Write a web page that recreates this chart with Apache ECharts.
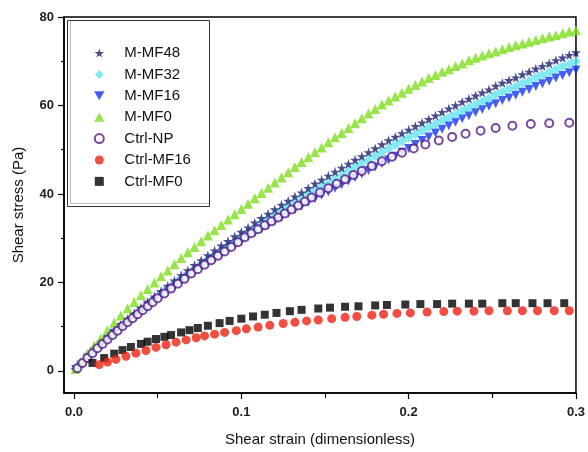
<!DOCTYPE html>
<html>
<head>
<meta charset="utf-8">
<script src="https://cdn.jsdelivr.net/npm/echarts@6/dist/echarts.min.js"></script>
<style>html,body{margin:0;padding:0;background:#fff;}#c{width:588px;height:452px;}</style>
</head>
<body>
<div id="c"></div>
<script>
const seriesNames = ['M-MF48', 'M-MF32', 'M-MF16', 'M-MF0', 'Ctrl-NP', 'Ctrl-MF16', 'Ctrl-MF0'];
const xTickLabels = [0, 0.1, 0.2, 0.3];
const xMinorTicks = [0.05, 0.15, 0.25];
const yTickLabels = [0, 20, 40, 60, 80];
const yMinorTicks = [10, 30, 50, 70];

const strainM = [0.001, 0.004, 0.008, 0.012, 0.016, 0.02, 0.024, 0.028, 0.032, 0.036, 0.04, 0.044, 0.048, 0.052, 0.056, 0.06, 0.064, 0.068, 0.072, 0.076, 0.08, 0.084, 0.088, 0.092, 0.096, 0.1, 0.104, 0.108, 0.112, 0.116, 0.12, 0.124, 0.128, 0.132, 0.136, 0.14, 0.144, 0.148, 0.152, 0.156, 0.16, 0.164, 0.168, 0.172, 0.176, 0.18, 0.184, 0.188, 0.192, 0.196, 0.2, 0.204, 0.208, 0.212, 0.216, 0.22, 0.224, 0.228, 0.232, 0.236, 0.24, 0.244, 0.248, 0.252, 0.256, 0.26, 0.264, 0.268, 0.272, 0.276, 0.28, 0.284, 0.288, 0.292, 0.296, 0.3];
const mmf48 = [0.4, 1.6, 3.2, 4.8, 6.3, 7.7, 9.1, 10.4, 11.7, 13.0, 14.3, 15.6, 16.8, 18.0, 19.2, 20.4, 21.6, 22.7, 23.9, 25.0, 26.1, 27.2, 28.3, 29.3, 30.4, 31.4, 32.4, 33.5, 34.5, 35.5, 36.5, 37.5, 38.4, 39.4, 40.3, 41.3, 42.3, 43.2, 44.1, 45.0, 45.9, 46.8, 47.7, 48.5, 49.4, 50.3, 51.2, 52.1, 52.9, 53.7, 54.5, 55.3, 56.1, 56.9, 57.7, 58.5, 59.3, 60.0, 60.8, 61.5, 62.2, 62.9, 63.6, 64.4, 65.1, 65.7, 66.3, 67.0, 67.6, 68.3, 68.9, 69.5, 70.2, 70.8, 71.4, 72.0];
const mmf32 = [0.4, 1.5, 3.1, 4.6, 6.1, 7.4, 8.8, 10.1, 11.3, 12.6, 13.8, 15.1, 16.2, 17.4, 18.5, 19.7, 20.8, 21.9, 23.0, 24.1, 25.2, 26.2, 27.3, 28.3, 29.3, 30.3, 31.3, 32.3, 33.3, 34.3, 35.2, 36.2, 37.1, 38.0, 38.9, 39.9, 40.8, 41.7, 42.5, 43.4, 44.3, 45.2, 46.1, 46.9, 47.7, 48.6, 49.4, 50.3, 51.1, 51.9, 52.7, 53.5, 54.3, 55.1, 55.8, 56.6, 57.3, 58.1, 58.8, 59.5, 60.2, 60.9, 61.6, 62.4, 63.1, 63.7, 64.3, 65.0, 65.6, 66.3, 66.9, 67.5, 68.2, 68.8, 69.4, 70.0];
const mmf16 = [0.3, 1.3, 2.9, 4.3, 5.7, 7.1, 8.5, 9.8, 11.0, 12.2, 13.4, 14.6, 15.7, 16.9, 18.0, 19.1, 20.2, 21.3, 22.3, 23.4, 24.4, 25.4, 26.4, 27.4, 28.3, 29.3, 30.3, 31.2, 32.1, 32.9, 33.8, 34.7, 35.6, 36.4, 37.2, 38.1, 38.9, 39.7, 40.5, 41.3, 42.1, 42.9, 43.7, 44.5, 45.3, 46.1, 46.9, 47.7, 48.5, 49.4, 50.3, 51.2, 52.1, 52.9, 53.8, 54.6, 55.4, 56.2, 57.0, 57.7, 58.4, 59.1, 59.8, 60.4, 61.1, 61.7, 62.3, 63.0, 63.6, 64.3, 64.9, 65.5, 66.2, 66.8, 67.4, 68.0];
const mmf0 = [0.5, 2.0, 3.9, 5.7, 7.4, 9.2, 10.9, 12.5, 14.1, 15.6, 17.1, 18.5, 20.0, 21.4, 22.7, 24.1, 25.5, 26.8, 28.0, 29.3, 30.6, 31.8, 33.0, 34.2, 35.4, 36.6, 37.8, 39.0, 40.2, 41.4, 42.6, 43.7, 44.9, 46.1, 47.2, 48.3, 49.4, 50.5, 51.7, 52.8, 53.8, 54.9, 56.0, 57.1, 58.2, 59.2, 60.2, 61.1, 62.0, 62.9, 63.8, 64.6, 65.4, 66.2, 66.9, 67.6, 68.2, 68.9, 69.5, 70.2, 70.8, 71.3, 71.8, 72.2, 72.7, 73.2, 73.6, 74.0, 74.4, 74.8, 75.2, 75.6, 75.9, 76.3, 76.7, 77.0];

const strainNP = [0.002, 0.005, 0.008, 0.011, 0.014, 0.017, 0.02, 0.023, 0.026, 0.029, 0.032, 0.035, 0.038, 0.041, 0.044, 0.047, 0.05, 0.054, 0.058, 0.062, 0.066, 0.07, 0.074, 0.078, 0.082, 0.086, 0.09, 0.094, 0.098, 0.102, 0.106, 0.11, 0.114, 0.118, 0.122, 0.126, 0.13, 0.134, 0.138, 0.142, 0.147, 0.152, 0.157, 0.162, 0.167, 0.172, 0.178, 0.184, 0.19, 0.196, 0.203, 0.21, 0.218, 0.226, 0.234, 0.243, 0.252, 0.262, 0.273, 0.284, 0.296];
const ctrlNP = [0.6, 1.8, 2.9, 4.0, 5.1, 6.1, 7.1, 8.1, 9.1, 10.1, 11.0, 11.9, 12.8, 13.7, 14.6, 15.5, 16.4, 17.5, 18.6, 19.7, 20.8, 22.0, 23.0, 24.0, 25.0, 26.0, 27.0, 28.0, 29.1, 30.2, 31.1, 32.0, 32.9, 33.8, 34.7, 35.6, 36.5, 37.4, 38.3, 39.2, 40.3, 41.3, 42.3, 43.3, 44.3, 45.2, 46.3, 47.4, 48.4, 49.3, 50.3, 51.2, 52.1, 52.9, 53.6, 54.3, 54.9, 55.4, 55.8, 56.0, 56.1];

const strainMF16 = [0.015, 0.020, 0.025, 0.031, 0.037, 0.043, 0.049, 0.055, 0.061, 0.067, 0.073, 0.078, 0.084, 0.090, 0.097, 0.103, 0.110, 0.117, 0.125, 0.132, 0.139, 0.146, 0.154, 0.162, 0.169, 0.178, 0.185, 0.193, 0.201, 0.211, 0.221, 0.229, 0.239, 0.248, 0.259, 0.268, 0.277, 0.287, 0.296];
const ctrlMF16 = [1.4, 2.0, 2.6, 3.3, 4.0, 4.6, 5.3, 5.9, 6.5, 7.0, 7.5, 7.9, 8.3, 8.7, 9.1, 9.5, 9.9, 10.3, 10.7, 11.0, 11.3, 11.5, 11.8, 12.1, 12.3, 12.6, 12.8, 13.0, 13.1, 13.3, 13.4, 13.5, 13.5, 13.6, 13.6, 13.6, 13.6, 13.6, 13.6];

const strainMF0 = [0.011, 0.018, 0.024, 0.029, 0.034, 0.040, 0.044, 0.049, 0.054, 0.058, 0.064, 0.069, 0.074, 0.080, 0.087, 0.093, 0.100, 0.107, 0.114, 0.121, 0.129, 0.136, 0.146, 0.153, 0.162, 0.170, 0.180, 0.187, 0.198, 0.207, 0.217, 0.226, 0.236, 0.244, 0.256, 0.264, 0.274, 0.283, 0.293];
const ctrlMF0 = [1.8, 2.9, 3.9, 4.7, 5.4, 6.1, 6.6, 7.2, 7.7, 8.1, 8.7, 9.2, 9.7, 10.2, 10.8, 11.3, 11.8, 12.3, 12.7, 13.1, 13.5, 13.8, 14.1, 14.3, 14.5, 14.6, 14.8, 14.9, 15.0, 15.1, 15.1, 15.2, 15.2, 15.2, 15.3, 15.3, 15.3, 15.3, 15.3];

const pair = (xs, ys) => xs.map((x, i) => [x, ys[i]]);
const STAR = 'path://M50,0 L61,35 L98,35 L68,57 L79,91 L50,70 L21,91 L32,57 L2,35 L39,35 Z';
const DOWN = 'path://M0,0 L100,0 L50,87 Z';
const UP = 'path://M50,0 L100,87 L0,87 Z';
const DIAMOND = 'path://M50,0 L100,50 L50,100 L0,50 Z';
const SQUARE = 'path://M0,0 L100,0 L100,100 L0,100 Z';
const FONT = 'Arial, "Liberation Sans", sans-serif';

const chart = echarts.init(document.getElementById('c'), null, {renderer: 'canvas'});
const axisCommon = {
  splitLine: {show: false},
  axisLine: {show: true, onZero: false, lineStyle: {color: '#000', width: 1.5}},
};
chart.setOption({
  animation: false,
  backgroundColor: '#fff',
  grid: {left: 64, right: 12, top: 17, bottom: 58, show: true, borderColor: '#000', borderWidth: 1.5, backgroundColor: 'transparent'},
  xAxis: [
    Object.assign({}, axisCommon, {
      type: 'value', min: -0.006, max: 0.3,
      name: 'Shear strain (dimensionless)', nameLocation: 'middle', nameGap: 39,
      nameTextStyle: {fontFamily: FONT, fontSize: 15, color: '#111'},
      axisTick: {show: true, length: 6, customValues: xTickLabels, lineStyle: {color: '#000', width: 1.2}},
      axisLabel: {customValues: xTickLabels, margin: 13, fontFamily: FONT, fontSize: 13, fontWeight: 'bold', color: '#222', formatter: v => v.toFixed(1)}
    }),
    {
      type: 'value', min: -0.006, max: 0.3, position: 'bottom',
      splitLine: {show: false}, axisLine: {show: false, onZero: false},
      axisTick: {show: true, length: 5, customValues: xMinorTicks, lineStyle: {color: '#000', width: 1.2}},
      axisLabel: {show: false}
    }
  ],
  yAxis: [
    Object.assign({}, axisCommon, {
      type: 'value', min: -5, max: 80,
      name: 'Shear stress (Pa)', nameLocation: 'middle', nameGap: 38,
      nameTextStyle: {fontFamily: FONT, fontSize: 15, color: '#111'},
      axisTick: {show: true, length: 6, customValues: yTickLabels, lineStyle: {color: '#000', width: 1.2}},
      axisLabel: {customValues: yTickLabels, margin: 10, fontFamily: FONT, fontSize: 13, fontWeight: 'bold', color: '#222'}
    }),
    {
      type: 'value', min: -5, max: 80, position: 'left',
      splitLine: {show: false}, axisLine: {show: false, onZero: false},
      axisTick: {show: true, length: 3, customValues: yMinorTicks, lineStyle: {color: '#000', width: 1.2}},
      axisLabel: {show: false}
    }
  ],
  legend: {
    orient: 'vertical', left: 93.8, top: 45.5, padding: 0,
    itemWidth: 40, itemHeight: 9, itemGap: 6.4,
    textStyle: {fontFamily: FONT, fontSize: 15, color: '#111', lineHeight: 15},
    data: [
      {name: 'M-MF48', icon: STAR}, {name: 'M-MF32', icon: DIAMOND}, {name: 'M-MF16', icon: DOWN}, {name: 'M-MF0', icon: UP},
      {name: 'Ctrl-NP'}, {name: 'Ctrl-MF16'}, {name: 'Ctrl-MF0', icon: SQUARE}
    ]
  },
  graphic: [
    {type: 'rect', shape: {x: 67.5, y: 20.5, width: 142, height: 186}, style: {fill: 'none', stroke: '#333', lineWidth: 1}, z: 10, silent: true},
    {type: 'polyline', shape: {points: [[70.5, 21], [70.5, 203.5], [209, 203.5]]}, style: {fill: 'none', stroke: '#bbb', lineWidth: 1}, z: 10, silent: true}
  ],
  series: [
    {name: 'M-MF16', type: 'scatter', data: pair(strainM, mmf16), symbol: 'triangle', symbolRotate: 180, symbolSize: 9, itemStyle: {color: '#1536f2'}, z: 2},
    {name: 'M-MF32', type: 'scatter', data: pair(strainM, mmf32), symbol: 'diamond', symbolSize: 10, itemStyle: {color: '#62e3f0'}, z: 3},
    {name: 'M-MF48', type: 'scatter', data: pair(strainM, mmf48), symbol: STAR, symbolSize: 10, itemStyle: {color: '#1a1f70'}, z: 4},
    {name: 'M-MF0', type: 'scatter', data: pair(strainM, mmf0), symbol: 'triangle', symbolSize: 10, itemStyle: {color: '#7ddd1e'}, z: 5},
    {name: 'Ctrl-NP', type: 'scatter', data: pair(strainNP, ctrlNP), symbol: 'circle', symbolSize: 8, itemStyle: {color: '#ffffff', borderColor: '#561a86', borderWidth: 2}, z: 6},
    {name: 'Ctrl-MF0', type: 'scatter', data: pair(strainMF0, ctrlMF0), symbol: 'rect', symbolSize: 8, itemStyle: {color: '#000000'}, z: 7},
    {name: 'Ctrl-MF16', type: 'scatter', data: pair(strainMF16, ctrlMF16), symbol: 'circle', symbolSize: 9, itemStyle: {color: '#ee2211'}, z: 8}
  ]
});
</script>
</body>
</html>
